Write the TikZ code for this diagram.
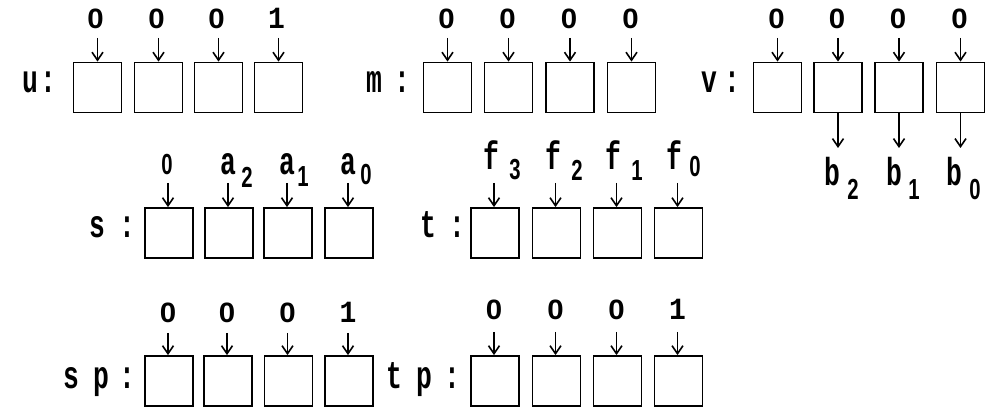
\documentclass[tikz,border=0pt]{standalone}
\usepackage{fontspec}
\setmainfont{Liberation Mono}
\newfontfamily\sansdg{Liberation Sans}
\usetikzlibrary{arrows.meta}
\newcommand{\ltr}[1]{\scalebox{0.88}[1.3]{#1}}
\newcommand{\sbs}[1]{{\sansdg\bfseries\scalebox{0.7}[1]{#1}}}
\newcommand{\zr}{{\sansdg\bfseries\scalebox{1.05}[1]{0}}}
\newcommand{\one}{\scalebox{1}[1.1]{1}}
\begin{document}
\begin{tikzpicture}[x=1pt,y=-1pt,
  cell/.style={draw, line width=1.8pt, minimum width=48pt, minimum height=50pt, inner sep=0pt},
  arr/.style={-{Straight Barb[length=8pt,width=11pt]}, line width=1.6pt},
  dig/.style={anchor=base, inner sep=0pt, font=\fontsize{28}{28}\selectfont\bfseries},
  let/.style={anchor=base, inner sep=0pt, font=\fontsize{30}{30}\selectfont\bfseries},
  subx/.style={anchor=base, inner sep=0pt, font=\fontsize{29}{29}\selectfont\bfseries}
]
\useasboundingbox (0,0) rectangle (999,411);

% ---------- row u ----------
\node[let] (uname) at (30,93) {\ltr{u}};
\node[let] (ucol) at (48,93) {\ltr{:}};
\foreach \i/\x/\t in {1/97.5/\zr,2/158.5/\zr,3/218.5/\zr,4/278.5/\one}{
  \node[cell] (u\i) at (\x,87.5) {};
  \node[dig] (ul\i) at (\x-2,29) {\t};
  \coordinate (ui\i) at (\x,38);
  \draw[arr] (ui\i) -- (u\i.north);
}
% ---------- row m ----------
\node[let] (mname) at (374,93) {\ltr{m}};
\node[let] (mcol) at (402,93) {\ltr{:}};
\foreach \i/\x/\t in {1/447.5/\zr,2/508.5/\zr,3/570/\zr,4/631.5/\zr}{
  \node[cell] (m\i) at (\x,87.5) {};
  \node[dig] (ml\i) at (\x-1,29) {\t};
  \coordinate (mi\i) at (\x,38);
  \draw[arr] (mi\i) -- (m\i.north);
}
% ---------- row v ----------
\node[let] (vname) at (709,93) {\ltr{v}};
\node[let] (vcol) at (732,93) {\ltr{:}};
\foreach \i/\x/\t in {1/777.5/\zr,2/838/\zr,3/899/\zr,4/960.5/\zr}{
  \node[cell] (v\i) at (\x,87.5) {};
  \node[dig] (vl\i) at (\x-1,29) {\t};
  \coordinate (vi\i) at (\x,38);
  \draw[arr] (vi\i) -- (v\i.north);
}
\foreach \i/\x in {2/838,3/899,4/960.5}{
  \coordinate (vo\i) at (\x,148);
  \draw[arr] (v\i.south) -- (vo\i);
}
\node[let] (b2) at (832,186) {\ltr{b}};
\node[subx] (b2s) at (853,200) {\sbs{2}};
\node[let] (b1) at (894,186) {\ltr{b}};
\node[subx] (b1s) at (914,200) {\sbs{1}};
\node[let] (b0) at (954,186) {\ltr{b}};
\node[subx] (b0s) at (975,200) {\sbs{0}};

% ---------- row s ----------
\node[let] (sname) at (97,238) {\ltr{s}};
\node[let] (scol) at (127,238) {\ltr{:}};
\foreach \i/\x in {1/169,2/229,3/288,4/349}{
  \node[cell] (s\i) at (\x,233) {};
  \coordinate (si\i) at (\x-1,183);
  \draw[arr] (si\i) -- (s\i.north -| si\i);
}
\node[subx] (sl1) at (167,175) {\sbs{0}};
\node[let] (sa2) at (228,175) {\ltr{a}};
\node[subx] (sa2s) at (247,188) {\sbs{2}};
\node[let] (sa1) at (287,175) {\ltr{a}};
\node[subx] (sa1s) at (303,187) {\sbs{1}};
\node[let] (sa0) at (348,175) {\ltr{a}};
\node[subx] (sa0s) at (366,185) {\sbs{0}};

% ---------- row t ----------
\node[let] (tname) at (428,238) {\ltr{t}};
\node[let] (tcol) at (457,238) {\ltr{:}};
\foreach \i/\x in {1/495,2/556.5,3/617.5,4/678.5}{
  \node[cell] (t\i) at (\x,233) {};
  \coordinate (ti\i) at (\x-1,183);
  \draw[arr] (ti\i) -- (t\i.north -| ti\i);
}
\node[let] (tf3) at (491,170) {\ltr{f}};
\node[subx] (tf3s) at (515,180) {\sbs{3}};
\node[let] (tf2) at (553,170) {\ltr{f}};
\node[subx] (tf2s) at (577,181) {\sbs{2}};
\node[let] (tf1) at (613,170) {\ltr{f}};
\node[subx] (tf1s) at (637,181) {\sbs{1}};
\node[let] (tf0) at (674,170) {\ltr{f}};
\node[subx] (tf0s) at (695,177) {\sbs{0}};

% ---------- row sp ----------
\node[let] (spname) at (71,389) {\ltr{s}};
\node[let] (spname2) at (101,389) {\ltr{p}};
\node[let] (spcol) at (127,389) {\ltr{:}};
\foreach \i/\x/\t in {1/169/\zr,2/228/\zr,3/288.5/\zr,4/349/\one}{
  \node[cell] (sp\i) at (\x,381) {};
  \node[dig] (spl\i) at (\x-1,323) {\t};
  \coordinate (spi\i) at (\x-1,333);
  \draw[arr] (spi\i) -- (sp\i.north -| spi\i);
}
% ---------- row tp ----------
\node[let] (tpname) at (394,389) {\ltr{t}};
\node[let] (tpname2) at (424,389) {\ltr{p}};
\node[let] (tpcol) at (452,389) {\ltr{:}};
\foreach \i/\x/\t in {1/495/\zr,2/556.5/\zr,3/617.5/\zr,4/678.5/\one}{
  \node[cell] (tp\i) at (\x,381) {};
  \node[dig] (tpl\i) at (\x-1,320) {\t};
  \coordinate (tpi\i) at (\x-1,332);
  \draw[arr] (tpi\i) -- (tp\i.north -| tpi\i);
}
\end{tikzpicture}
\end{document}
